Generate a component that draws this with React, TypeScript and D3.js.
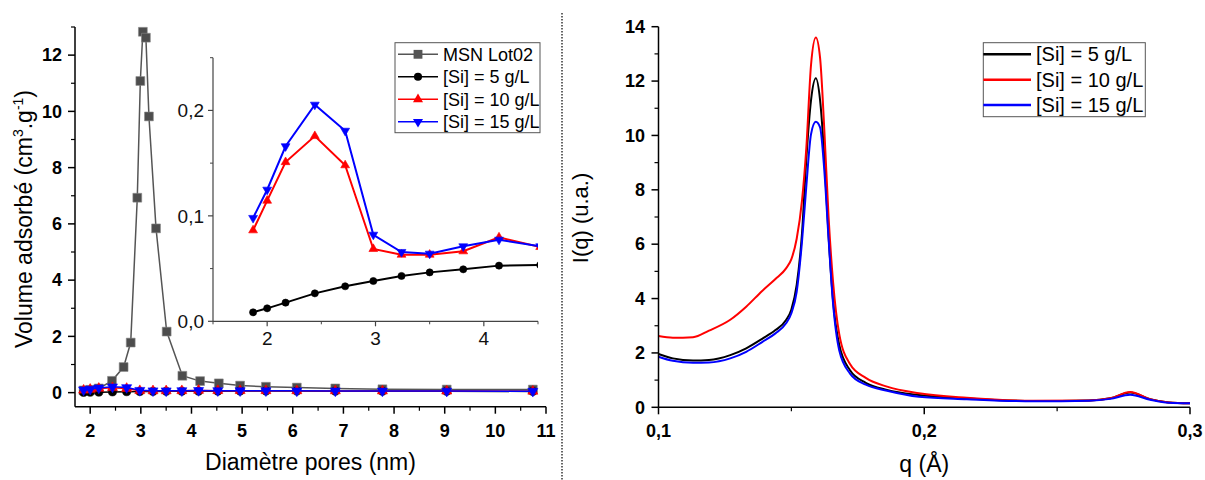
import React from "react";
import * as d3 from "d3";

// ---------- Left panel data (pore size distribution) ----------
const msnX = [1.87, 2.0, 2.17, 2.43, 2.66, 2.8, 2.93, 2.99, 3.04, 3.1, 3.16, 3.3, 3.51, 3.82, 4.17, 4.54, 4.96, 5.47, 6.08, 6.84, 7.77, 9.04, 10.74];
const msnY = [0.08, 0.1, 0.15, 0.42, 0.91, 1.78, 6.93, 11.08, 12.83, 12.62, 9.82, 5.84, 2.17, 0.6, 0.41, 0.33, 0.25, 0.21, 0.18, 0.15, 0.12, 0.11, 0.11];

const poreX = [1.87, 2.0, 2.17, 2.44, 2.72, 2.98, 3.24, 3.5, 3.81, 4.14, 4.52, 4.96, 5.47, 6.08, 6.84, 7.77, 9.04, 10.74];
const si5Vol = [0.0085, 0.0123, 0.0177, 0.0265, 0.0332, 0.0382, 0.043, 0.0464, 0.0493, 0.0528, 0.0534, 0.055, 0.055, 0.054, 0.052, 0.05, 0.047, 0.044];
const si10Vol = [0.0863, 0.1144, 0.151, 0.1757, 0.148, 0.0686, 0.0632, 0.0632, 0.0664, 0.0796, 0.0705, 0.07, 0.068, 0.065, 0.062, 0.058, 0.055, 0.05];
const si15Vol = [0.098, 0.1248, 0.166, 0.2054, 0.1807, 0.0821, 0.0657, 0.0641, 0.0711, 0.0774, 0.0711, 0.07, 0.068, 0.065, 0.062, 0.058, 0.055, 0.05];

const leftXTicks = [2, 3, 4, 5, 6, 7, 8, 9, 10, 11];
const leftXMinor = [2.5, 3.5, 4.5, 5.5, 6.5, 7.5, 8.5, 9.5, 10.5];
const leftYTicks = [0, 2, 4, 6, 8, 10, 12];
const leftYMinor = [1, 3, 5, 7, 9, 11, 13];
const insetXTicks = [2, 3, 4];
const insetXMinor = [1.5, 2.5, 3.5, 4.5];
const insetYTicks = [0, 0.1, 0.2];
const insetYMinor = [0.05, 0.15, 0.25];

const leftLegend = ["MSN Lot02", "[Si] = 5 g/L", "[Si] = 10 g/L", "[Si] = 15 g/L"];

// ---------- Right panel data (SAXS) ----------
const qValues = [0.1, 0.1054, 0.113, 0.119, 0.127, 0.133, 0.139, 0.144, 0.148, 0.15, 0.152, 0.154, 0.1556, 0.1574, 0.1592, 0.1608, 0.1624, 0.164, 0.1657, 0.168, 0.172, 0.178, 0.186, 0.198, 0.216, 0.241, 0.262, 0.27, 0.2775, 0.285, 0.292, 0.3];
const iq5 = [1.96, 1.8, 1.72, 1.74, 1.92, 2.17, 2.52, 2.84, 3.21, 3.6, 4.5, 6.4, 9.1, 11.3, 12.1, 11.3, 9.2, 6.3, 3.9, 2.3, 1.37, 0.9, 0.64, 0.45, 0.32, 0.23, 0.25, 0.33, 0.54, 0.3, 0.18, 0.15];
const iq10 = [2.62, 2.56, 2.58, 2.82, 3.22, 3.7, 4.28, 4.72, 5.11, 5.45, 6.2, 7.6, 9.5, 12.6, 13.6, 12.85, 10.2, 7.0, 4.6, 2.7, 1.6, 1.08, 0.76, 0.52, 0.35, 0.24, 0.25, 0.33, 0.56, 0.3, 0.18, 0.15];
const iq15 = [1.86, 1.71, 1.64, 1.65, 1.8, 2.04, 2.4, 2.72, 3.09, 3.46, 4.25, 6.1, 8.1, 10.05, 10.5, 10.3, 8.7, 6.2, 3.8, 2.1, 1.25, 0.83, 0.61, 0.39, 0.3, 0.22, 0.24, 0.31, 0.46, 0.28, 0.17, 0.15];

const rightXTicks = [0.1, 0.2, 0.3];
const rightXMinor = [0.15, 0.25];
const rightYTicks = [0, 2, 4, 6, 8, 10, 12, 14];
const rightYMinor = [1, 3, 5, 7, 9, 11, 13];
const rightLegend = ["[Si] = 5 g/L", "[Si] = 10 g/L", "[Si] = 15 g/L"];

const FONT = "'Liberation Sans', Arial, Helvetica, sans-serif";
const fmtComma = (v: number, d: number) => v.toFixed(d).replace(".", ",");

type Pt = [number, number];
const zip = (xs: number[], ys: number[]): Pt[] => xs.map((x, i) => [x, ys[i]]);

export default function App() {
  // scales
  const xL = d3.scaleLinear().domain([1.7, 11]).range([75, 546]);
  const yL = d3.scaleLinear().domain([-0.5, 13]).range([406.7, 27]);
  const xI = d3.scaleLinear().domain([1.5, 4.5]).range([213, 538]);
  const yI = d3.scaleLinear().domain([0, 0.25]).range([321.3, 57.7]);
  const xR = d3.scaleLinear().domain([0.1, 0.3]).range([658.5, 1190]);
  const yR = d3.scaleLinear().domain([0, 14]).range([407.3, 26.7]);

  const lineL = d3.line<Pt>().x((d) => xL(d[0])).y((d) => yL(d[1]));
  const lineI = d3.line<Pt>().x((d) => xI(d[0])).y((d) => yI(d[1]));
  const lineR = d3.line<Pt>().x((d) => xR(d[0])).y((d) => yR(d[1])).curve(d3.curveMonotoneX);

  const sqMain = d3.symbol().type(d3.symbolSquare).size(78)() as string;
  const circMain = d3.symbol().type(d3.symbolCircle).size(52)() as string;
  const triMain = d3.symbol().type(d3.symbolTriangle).size(44)() as string;
  const circIn = d3.symbol().type(d3.symbolCircle).size(40)() as string;
  const triIn = d3.symbol().type(d3.symbolTriangle).size(34)() as string;

  const msn = zip(msnX, msnY);
  const s5 = zip(poreX, si5Vol);
  const s10 = zip(poreX, si10Vol);
  const s15 = zip(poreX, si15Vol);

  const axisL0 = yL.range()[0];
  const axisR0 = yR.range()[0];

  const markers = (pts: Pt[], xs: (v: number) => number, ys: (v: number) => number, path: string, fill: string, stroke: string, rot = 0) =>
    pts.map((p, i) => (
      <path key={i} d={path} fill={fill} stroke={stroke} strokeWidth={0.6}
        transform={`translate(${xs(p[0])},${ys(p[1])})${rot ? ` rotate(${rot})` : ""}`} />
    ));

  const legendMarkers = [
    { color: "#555", path: sqMain, fill: "#555", rot: 0 },
    { color: "#000", path: circMain, fill: "#000", rot: 0 },
    { color: "#ff0000", path: triMain, fill: "#ff0000", rot: 0 },
    { color: "#0000ff", path: triMain, fill: "#0000ff", rot: 180 },
  ];
  const rightColors = ["#000", "#ff0000", "#0000ff"];

  return (
    <svg width={1205} height={480} style={{ position: "absolute", left: 0, top: 0, background: "#fff" }} fontFamily={FONT}>
      <rect x={0} y={0} width={1205} height={480} fill="#fff" />
      <defs>
        <clipPath id="insetClip">
          <rect x={xI(1.5)} y={yI(0.25)} width={xI(4.5) - xI(1.5)} height={yI(0) - yI(0.25)} />
        </clipPath>
      </defs>

      {/* ================= LEFT PANEL ================= */}
      {/* main data */}
      <path d={lineL(msn) || ""} fill="none" stroke="#555" strokeWidth={1.5} />
      {markers(msn, xL, yL, sqMain, "#4d4d4d", "#888")}
      <path d={lineL(s5) || ""} fill="none" stroke="#000" strokeWidth={1.5} />
      {markers(s5, xL, yL, circMain, "#000", "#000")}
      <path d={lineL(s10) || ""} fill="none" stroke="#ff0000" strokeWidth={1.5} />
      {markers(s10, xL, yL, triMain, "#ff0000", "#ff0000")}
      <path d={lineL(s15) || ""} fill="none" stroke="#0000ff" strokeWidth={1.5} />
      {markers(s15, xL, yL, triMain, "#0000ff", "#0000ff", 180)}

      {/* main axes */}
      <line x1={xL(1.7)} x2={xL(1.7)} y1={yL(13)} y2={axisL0} stroke="#000" strokeWidth={1.5} />
      <line x1={xL(1.7)} x2={xL(11)} y1={axisL0} y2={axisL0} stroke="#000" strokeWidth={1.5} />
      {leftYTicks.map((t) => (
        <g key={"ly" + t}>
          <line x1={xL(1.7) - 7} x2={xL(1.7)} y1={yL(t)} y2={yL(t)} stroke="#000" strokeWidth={1.5} />
          <text x={62} y={yL(t)} dy="0.35em" textAnchor="end" fontSize={18} fontWeight="bold">{t}</text>
        </g>
      ))}
      {leftYMinor.map((t) => (
        <line key={"lym" + t} x1={xL(1.7) - 4} x2={xL(1.7)} y1={yL(t)} y2={yL(t)} stroke="#000" strokeWidth={1.2} />
      ))}
      {leftXTicks.map((t) => (
        <g key={"lx" + t}>
          <line x1={xL(t)} x2={xL(t)} y1={axisL0} y2={axisL0 + 7} stroke="#000" strokeWidth={1.5} />
          <text x={xL(t)} y={437} textAnchor="middle" fontSize={18} fontWeight="bold">{t}</text>
        </g>
      ))}
      {leftXMinor.map((t) => (
        <line key={"lxm" + t} x1={xL(t)} x2={xL(t)} y1={axisL0} y2={axisL0 + 4} stroke="#000" strokeWidth={1.2} />
      ))}
      <text x={xL(6.35)} y={470} textAnchor="middle" fontSize={23}>Diamètre pores (nm)</text>
      <text transform={`translate(32,${219}) rotate(-90)`} textAnchor="middle" fontSize={23}>
        Volume adsorbé (cm<tspan fontSize={14} dy={-9}>3</tspan><tspan dy={9}>.g</tspan><tspan fontSize={14} dy={-9}>-1</tspan><tspan dy={9}>)</tspan>
      </text>

      {/* inset */}
      <g clipPath="url(#insetClip)">
        <path d={lineI(s5) || ""} fill="none" stroke="#000" strokeWidth={2} />
        {markers(s5, xI, yI, circIn, "#000", "#000")}
        <path d={lineI(s10) || ""} fill="none" stroke="#ff0000" strokeWidth={2} />
        {markers(s10, xI, yI, triIn, "#ff0000", "#ff0000")}
        <path d={lineI(s15) || ""} fill="none" stroke="#0000ff" strokeWidth={2} />
        {markers(s15, xI, yI, triIn, "#0000ff", "#0000ff", 180)}
      </g>
      <line x1={xI(1.5)} x2={xI(1.5)} y1={yI(0.25)} y2={yI(0)} stroke="#444" strokeWidth={1.2} />
      <line x1={xI(1.5)} x2={xI(4.5)} y1={yI(0)} y2={yI(0)} stroke="#444" strokeWidth={1.2} />
      {insetYTicks.map((t) => (
        <g key={"iy" + t}>
          <line x1={xI(1.5) - 5} x2={xI(1.5)} y1={yI(t)} y2={yI(t)} stroke="#444" strokeWidth={1.2} />
          <text x={204} y={yI(t)} dy="0.35em" textAnchor="end" fontSize={19} fill="#111">{fmtComma(t, 1)}</text>
        </g>
      ))}
      {insetYMinor.map((t) => (
        <line key={"iym" + t} x1={xI(1.5) - 3} x2={xI(1.5)} y1={yI(t)} y2={yI(t)} stroke="#444" strokeWidth={1} />
      ))}
      {insetXTicks.map((t) => (
        <g key={"ix" + t}>
          <line x1={xI(t)} x2={xI(t)} y1={yI(0)} y2={yI(0) + 5} stroke="#444" strokeWidth={1.2} />
          <text x={xI(t)} y={345} textAnchor="middle" fontSize={19} fill="#111">{t}</text>
        </g>
      ))}
      {insetXMinor.map((t) => (
        <line key={"ixm" + t} x1={xI(t)} x2={xI(t)} y1={yI(0)} y2={yI(0) + 3} stroke="#444" strokeWidth={1} />
      ))}

      {/* left legend */}
      <rect x={395} y={42.7} width={145} height={90} fill="#fff" stroke="#555" strokeWidth={1} />
      {leftLegend.map((name, i) => {
        const y = 54.3 + i * 22.5;
        const m = legendMarkers[i];
        return (
          <g key={"ll" + i}>
            <line x1={398} x2={438} y1={y} y2={y} stroke={m.color} strokeWidth={1.6} />
            <path d={m.path} fill={m.fill} transform={`translate(418,${y})${m.rot ? ` rotate(${m.rot})` : ""}`} />
            <text x={443} y={y} dy="0.35em" fontSize={18}>{name}</text>
          </g>
        );
      })}

      {/* separator */}
      <line x1={562} x2={562} y1={13} y2={480} stroke="#333" strokeWidth={1.5} strokeDasharray="1.5,1.5" />

      {/* ================= RIGHT PANEL ================= */}
      {[iq5, iq10, iq15].map((arr, k) => (
        <path key={"r" + k} d={lineR(zip(qValues, arr)) || ""} fill="none" stroke={rightColors[k]} strokeWidth={2} />
      ))}
      <line x1={xR(0.1)} x2={xR(0.1)} y1={yR(14)} y2={axisR0} stroke="#000" strokeWidth={1.5} />
      <line x1={xR(0.1)} x2={xR(0.3)} y1={axisR0} y2={axisR0} stroke="#000" strokeWidth={1.5} />
      {rightYTicks.map((t) => (
        <g key={"ry" + t}>
          <line x1={xR(0.1) - 7} x2={xR(0.1)} y1={yR(t)} y2={yR(t)} stroke="#000" strokeWidth={1.5} />
          <text x={645} y={yR(t)} dy="0.35em" textAnchor="end" fontSize={18} fontWeight="bold">{t}</text>
        </g>
      ))}
      {rightYMinor.map((t) => (
        <line key={"rym" + t} x1={xR(0.1) - 4} x2={xR(0.1)} y1={yR(t)} y2={yR(t)} stroke="#000" strokeWidth={1.2} />
      ))}
      {rightXTicks.map((t) => (
        <g key={"rx" + t}>
          <line x1={xR(t)} x2={xR(t)} y1={axisR0} y2={axisR0 + 7} stroke="#000" strokeWidth={1.5} />
          <text x={xR(t)} y={437} textAnchor="middle" fontSize={18} fontWeight="bold">{fmtComma(t, 1)}</text>
        </g>
      ))}
      {rightXMinor.map((t) => (
        <line key={"rxm" + t} x1={xR(t)} x2={xR(t)} y1={axisR0} y2={axisR0 + 4} stroke="#000" strokeWidth={1.2} />
      ))}
      <text x={xR(0.2)} y={472} textAnchor="middle" fontSize={23}>q (Å)</text>
      <text transform={`translate(588,${218}) rotate(-90)`} textAnchor="middle" fontSize={22}>I(q) (u.a.)</text>

      {/* right legend */}
      <rect x={983.3} y={42.7} width={162} height={74} fill="#fff" stroke="#555" strokeWidth={1} />
      {rightLegend.map((name, i) => {
        const y = 54.3 + i * 25.4;
        return (
          <g key={"rl" + i}>
            <line x1={983.3} x2={1031} y1={y} y2={y} stroke={rightColors[i]} strokeWidth={2.5} />
            <text x={1036} y={y} dy="0.35em" fontSize={20}>{name}</text>
          </g>
        );
      })}
    </svg>
  );
}
